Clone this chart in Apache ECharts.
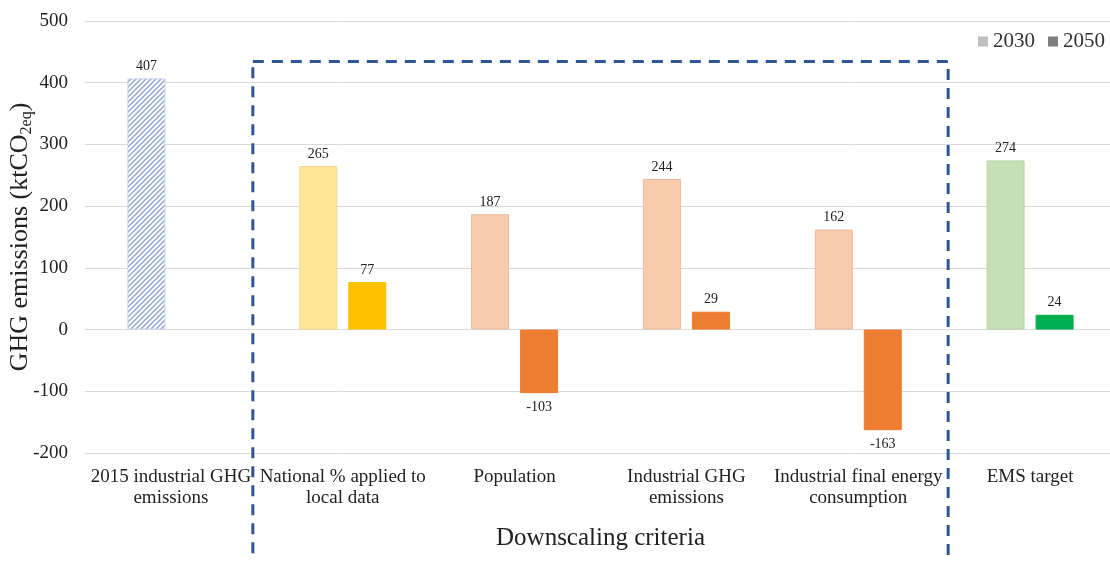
<!DOCTYPE html>
<html>
<head>
<meta charset="utf-8">
<script src="https://cdn.jsdelivr.net/npm/echarts@6/dist/echarts.min.js"></script>
<style>
  html, body { margin: 0; padding: 0; background: #fff; }
  #chart { width: 1110px; height: 561px; }
</style>
</head>
<body>
<div id="chart"></div>
<script>
// Downscaled industrial GHG emission targets (ktCO2eq)
const categories = [
  '2015 industrial GHG\nemissions',
  'National % applied to\nlocal data',
  'Population',
  'Industrial GHG\nemissions',
  'Industrial final energy\nconsumption',
  'EMS target'
];
const values2030 = [407, 265, 187, 244, 162, 274];
const values2050 = [null, 77, -103, 29, -163, 24];
const yTicks = [-200, -100, 0, 100, 200, 300, 400, 500];

// Hatched fill for the 2015 baseline bar
function hatchPattern() {
  const c = document.createElement('canvas');
  c.width = 5; c.height = 5;
  const g = c.getContext('2d');
  g.fillStyle = '#ffffff';
  g.fillRect(0, 0, 5, 5);
  g.strokeStyle = '#8fa6d2';
  g.lineWidth = 1.5;
  g.beginPath();
  g.moveTo(-1, 6); g.lineTo(6, -1);
  g.moveTo(-1, 1); g.lineTo(1, -1);
  g.moveTo(4, 6); g.lineTo(6, 4);
  g.stroke();
  return { image: c, repeat: 'repeat' };
}

const fill2030 = [hatchPattern(), '#ffe699', '#f8cbad', '#f8cbad', '#f8cbad', '#c5e0b4'];
const edge2030 = ['#c8d2e6', '#f2d98a', '#e9bca0', '#e9bca0', '#e9bca0', '#b7d3a6'];
const fill2050 = [null, '#ffc000', '#ed7d31', '#ed7d31', '#ed7d31', '#00b050'];

const serif = '"Liberation Serif", "DejaVu Serif", serif';

function barData(vals, fills, edges) {
  return vals.map((v, i) => v === null ? null : {
    value: v,
    itemStyle: { color: fills[i], borderColor: edges ? edges[i] : fills[i], borderWidth: 1 },
    label: { position: v < 0 ? 'bottom' : 'top', distance: v < 0 ? 7 : 5 }
  });
}

const labelStyle = {
  show: true,
  fontFamily: serif,
  fontSize: 14,
  color: '#222'
};

const chart = echarts.init(document.getElementById('chart'), null, { renderer: 'canvas' });

chart.setOption({
  animation: false,
  textStyle: { fontFamily: serif },
  grid: { left: 85, top: 21, width: 1031, height: 432, containLabel: false, outerBoundsMode: 'none' },
  legend: {
    right: 0,
    top: 26,
    itemWidth: 10,
    itemHeight: 10,
    itemGap: 13,
    icon: 'rect',
    textStyle: { fontFamily: serif, fontSize: 21, color: '#333' },
    data: ['2030', '2050']
  },
  xAxis: {
    type: 'category',
    data: categories,
    axisLine: { show: false },
    axisTick: { show: false },
    axisLabel: {
      interval: 0,
      margin: 14,
      fontFamily: serif,
      fontSize: 19,
      lineHeight: 21,
      color: '#222'
    },
    name: 'Downscaling criteria',
    nameLocation: 'middle',
    nameGap: 73,
    nameMoveOverlap: false,
    nameTextStyle: { fontFamily: serif, fontSize: 25, color: '#222' }
  },
  yAxis: {
    type: 'value',
    min: yTicks[0],
    max: yTicks[yTicks.length - 1],
    interval: 100,
    axisLine: { show: false },
    axisTick: { show: false },
    splitLine: { lineStyle: { color: '#d9d9d9', width: 1 } },
    axisLabel: {
      margin: 17,
      fontFamily: serif,
      fontSize: 19,
      color: '#222'
    },
    name: '{m|GHG emissions (ktCO}{s|2eq}{m|)}',
    nameLocation: 'middle',
    nameRotate: 90,
    nameGap: 50,
    nameMoveOverlap: false,
    nameTextStyle: {
      rich: {
        m: { fontFamily: serif, fontSize: 26, color: '#222' },
        s: { fontFamily: serif, fontSize: 16, color: '#222', padding: [14, 0, 0, 0] }
      }
    }
  },
  series: [
    {
      name: '2030',
      type: 'bar',
      barWidth: 38,
      barGap: '29%',
      itemStyle: { color: '#bfbfbf' },
      label: labelStyle,
      data: barData(values2030, fill2030, edge2030)
    },
    {
      name: '2050',
      type: 'bar',
      barWidth: 38,
      barGap: '29%',
      itemStyle: { color: '#7f7f7f' },
      label: labelStyle,
      data: barData(values2050, fill2050, null)
    }
  ]
});

// Dashed frame around the downscaling-criteria groups
function drawFrame() {
  const c0 = chart.convertToPixel({ xAxisIndex: 0 }, categories[0]);
  const c1 = chart.convertToPixel({ xAxisIndex: 0 }, categories[1]);
  const c4 = chart.convertToPixel({ xAxisIndex: 0 }, categories[4]);
  const c5 = chart.convertToPixel({ xAxisIndex: 0 }, categories[5]);
  const top = chart.convertToPixel({ yAxisIndex: 0 }, 434.5);
  const left = (c0 + c1) / 2 - 4;
  const right = (c4 + c5) / 2 + 4;
  chart.setOption({
    graphic: [{
      type: 'rect',
      silent: true,
      z: 10,
      shape: { x: left, y: top, width: right - left, height: chart.getHeight() - top + 20 },
      style: { fill: 'none', stroke: '#2f5597', lineWidth: 3, lineDash: [11, 8] }
    }]
  });
}
drawFrame();
</script>
</body>
</html>
